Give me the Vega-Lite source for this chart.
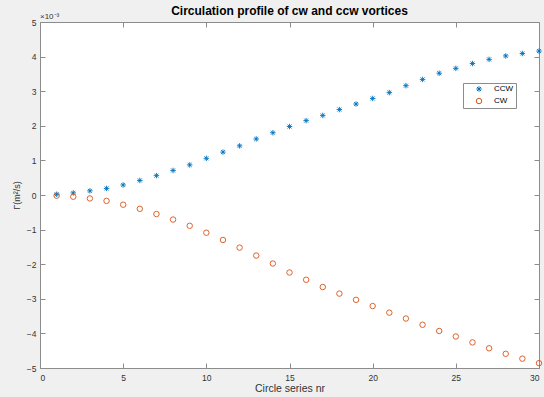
{
  "$schema": "https://vega.github.io/schema/vega-lite/v6.json",
  "width": 499,
  "height": 346,
  "autosize": {"type": "none"},
  "padding": {"left": 40, "top": 22, "right": 5, "bottom": 29},
  "background": "#f0f0f0",
  "config": {
    "font": "Liberation Sans",
    "view": {"fill": "white", "stroke": "#8c8c8c", "strokeWidth": 1},
    "axis": {
      "domain": false,
      "grid": false,
      "tickColor": "#8c8c8c",
      "tickSize": -5,
      "labelFontSize": 8.5,
      "labelColor": "#333333",
      "labelPadding": 9,
      "titleFontSize": 10.5,
      "titleFontWeight": "normal",
      "titleColor": "#333333"
    },
    "legend": {
      "fillColor": "white",
      "strokeColor": "#8c8c8c",
      "padding": 2,
      "rowPadding": 2,
      "labelFontSize": 8,
      "labelColor": "#000000",
      "symbolStrokeWidth": 1,
      "symbolSize": 30,
      "symbolOffset": 10,
      "labelOffset": 11
    }
  },
  "title": {
    "text": "Circulation profile of cw and ccw vortices",
    "fontSize": 12,
    "fontWeight": "bold",
    "color": "#000000",
    "offset": -5
  },
  "data": {
    "values": [
      {"nr": 1, "series": "CCW", "gamma": 0.02},
      {"nr": 2, "series": "CCW", "gamma": 0.06},
      {"nr": 3, "series": "CCW", "gamma": 0.12},
      {"nr": 4, "series": "CCW", "gamma": 0.19},
      {"nr": 5, "series": "CCW", "gamma": 0.29},
      {"nr": 6, "series": "CCW", "gamma": 0.42},
      {"nr": 7, "series": "CCW", "gamma": 0.56},
      {"nr": 8, "series": "CCW", "gamma": 0.71},
      {"nr": 9, "series": "CCW", "gamma": 0.87},
      {"nr": 10, "series": "CCW", "gamma": 1.06},
      {"nr": 11, "series": "CCW", "gamma": 1.24},
      {"nr": 12, "series": "CCW", "gamma": 1.42},
      {"nr": 13, "series": "CCW", "gamma": 1.62},
      {"nr": 14, "series": "CCW", "gamma": 1.8},
      {"nr": 15, "series": "CCW", "gamma": 1.98},
      {"nr": 16, "series": "CCW", "gamma": 2.15},
      {"nr": 17, "series": "CCW", "gamma": 2.3},
      {"nr": 18, "series": "CCW", "gamma": 2.47},
      {"nr": 19, "series": "CCW", "gamma": 2.63},
      {"nr": 20, "series": "CCW", "gamma": 2.79},
      {"nr": 21, "series": "CCW", "gamma": 2.96},
      {"nr": 22, "series": "CCW", "gamma": 3.16},
      {"nr": 23, "series": "CCW", "gamma": 3.34},
      {"nr": 24, "series": "CCW", "gamma": 3.52},
      {"nr": 25, "series": "CCW", "gamma": 3.66},
      {"nr": 26, "series": "CCW", "gamma": 3.8},
      {"nr": 27, "series": "CCW", "gamma": 3.92},
      {"nr": 28, "series": "CCW", "gamma": 4.02},
      {"nr": 29, "series": "CCW", "gamma": 4.09},
      {"nr": 30, "series": "CCW", "gamma": 4.16},
      {"nr": 1, "series": "CW", "gamma": -0.02},
      {"nr": 2, "series": "CW", "gamma": -0.05},
      {"nr": 3, "series": "CW", "gamma": -0.1},
      {"nr": 4, "series": "CW", "gamma": -0.17},
      {"nr": 5, "series": "CW", "gamma": -0.28},
      {"nr": 6, "series": "CW", "gamma": -0.4},
      {"nr": 7, "series": "CW", "gamma": -0.55},
      {"nr": 8, "series": "CW", "gamma": -0.71},
      {"nr": 9, "series": "CW", "gamma": -0.89},
      {"nr": 10, "series": "CW", "gamma": -1.09},
      {"nr": 11, "series": "CW", "gamma": -1.3},
      {"nr": 12, "series": "CW", "gamma": -1.52},
      {"nr": 13, "series": "CW", "gamma": -1.75},
      {"nr": 14, "series": "CW", "gamma": -1.98},
      {"nr": 15, "series": "CW", "gamma": -2.24},
      {"nr": 16, "series": "CW", "gamma": -2.45},
      {"nr": 17, "series": "CW", "gamma": -2.66},
      {"nr": 18, "series": "CW", "gamma": -2.85},
      {"nr": 19, "series": "CW", "gamma": -3.03},
      {"nr": 20, "series": "CW", "gamma": -3.21},
      {"nr": 21, "series": "CW", "gamma": -3.4},
      {"nr": 22, "series": "CW", "gamma": -3.57},
      {"nr": 23, "series": "CW", "gamma": -3.75},
      {"nr": 24, "series": "CW", "gamma": -3.93},
      {"nr": 25, "series": "CW", "gamma": -4.09},
      {"nr": 26, "series": "CW", "gamma": -4.26},
      {"nr": 27, "series": "CW", "gamma": -4.43},
      {"nr": 28, "series": "CW", "gamma": -4.59},
      {"nr": 29, "series": "CW", "gamma": -4.73},
      {"nr": 30, "series": "CW", "gamma": -4.86}
    ]
  },
  "layer": [
    {
      "mark": {"type": "point", "filled": false, "strokeWidth": 0.9, "opacity": 1},
      "encoding": {
        "x": {
          "field": "nr",
          "type": "quantitative",
          "scale": {"domain": [0, 30], "nice": false},
          "axis": {"orient": "bottom", "values": [0, 5, 10, 15, 20, 25, 30], "title": "Circle series nr", "labelPadding": 10, "titlePadding": 2}
        },
        "y": {
          "field": "gamma",
          "type": "quantitative",
          "scale": {"domain": [-5, 5], "nice": false},
          "axis": {"orient": "left", "values": [-5, -4, -3, -2, -1, 0, 1, 2, 3, 4, 5], "title": "Γ(m²/s)", "titleFontSize": 9, "titlePadding": 5}
        },
        "color": {
          "field": "series",
          "type": "nominal",
          "scale": {"domain": ["CCW", "CW"], "range": ["#0072BD", "#D95319"]},
          "legend": {"title": null, "orient": "none", "legendX": 423, "legendY": 61}
        },
        "shape": {
          "field": "series",
          "type": "nominal",
          "scale": {
            "domain": ["CCW", "CW"],
            "range": ["M-1,0L1,0M0,-1L0,1M-0.72,-0.72L0.72,0.72M-0.72,0.72L0.72,-0.72", "circle"]
          },
          "legend": {"title": null, "orient": "none", "legendX": 423, "legendY": 61}
        }
      }
    },
    {
      "mark": {"type": "point", "opacity": 0},
      "encoding": {
        "x": {
          "field": "nr",
          "type": "quantitative",
          "axis": {"orient": "top", "values": [0, 5, 10, 15, 20, 25, 30], "labels": false, "title": null}
        },
        "y": {
          "field": "gamma",
          "type": "quantitative",
          "axis": {"orient": "right", "values": [-5, -4, -3, -2, -1, 0, 1, 2, 3, 4, 5], "labels": false, "title": null}
        }
      }
    },
    {
      "data": {"values": [{"label": "×10⁻³"}]},
      "mark": {"type": "text", "align": "left", "baseline": "bottom", "dy": -1, "fontSize": 8, "color": "#333333"},
      "encoding": {
        "x": {"datum": 0, "type": "quantitative", "axis": null},
        "y": {"datum": 5, "type": "quantitative", "axis": null},
        "text": {"field": "label"}
      }
    }
  ],
  "resolve": {"axis": {"x": "independent", "y": "independent"}}
}
